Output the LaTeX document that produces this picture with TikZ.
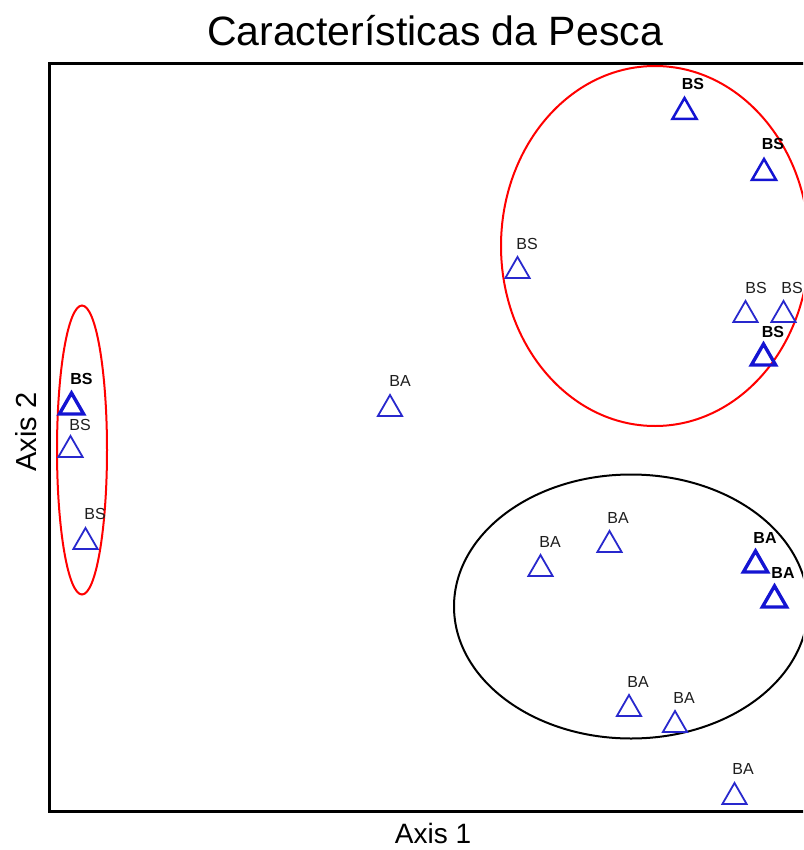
\documentclass[tikz,border=0pt]{standalone}
\usepackage{fontspec}
\setmainfont{Liberation Sans}
\usetikzlibrary{shapes.geometric,calc}
\definecolor{triblue}{RGB}{40,40,205}
\definecolor{tridark}{RGB}{20,20,210}
\definecolor{labgray}{RGB}{30,30,30}
\tikzset{
  tri/.style={regular polygon, regular polygon sides=3, minimum size=28pt, inner sep=0pt, draw=triblue, line width=1.8pt},
  trimid/.style={tri, draw=tridark, line width=2.5pt},
  trithick/.style={tri, draw=tridark, line width=3.4pt},
  lab/.style={inner sep=0pt, text=labgray, font=\fontsize{16}{16}\selectfont},
  labb/.style={inner sep=0pt, text=black, font=\fontsize{16}{16}\selectfont\bfseries},
  frameline/.style={line width=3pt, black},
  grp/.style={line width=2pt},
}
\begin{document}
\begin{tikzpicture}[x=1pt,y=-1pt]
\useasboundingbox (0,0) rectangle (803,850);
\clip (0,0) rectangle (803,850);
\fill[white] (0,0) rectangle (803,850);
% title and axes
\node[anchor=base, inner sep=0pt, font=\fontsize{41}{41}\selectfont] (title) at (435,46) {Características da Pesca};
\node[anchor=base, inner sep=0pt, font=\fontsize{28}{28}\selectfont] (ax1) at (433,843) {Axis 1};
\node[anchor=base, inner sep=0pt, rotate=90, font=\fontsize{29}{29}\selectfont] (ax2) at (36,432) {Axis 2};
% frame
\draw[frameline] (805,64) -| (49,811) -- (805,811);
% group ellipses
\draw[grp, red] (82,450) ellipse [x radius=25, y radius=144.5];
\draw[grp, red] (655,246) ellipse [x radius=154, y radius=180];
\draw[grp, black] (631,606.5) ellipse [x radius=177, y radius=132];
% left group
\node[trithick] (l1) at (71.5,407) {};
\node[labb] at ($(l1)+(10,-28)$) {BS};
\node[tri] (l2) at (70.5,450) {};
\node[lab] at ($(l2)+(9.5,-25)$) {BS};
\node[tri] (l3) at (85.5,542) {};
\node[lab] at ($(l3)+(9.5,-28)$) {BS};
% middle
\node[tri] (m1) at (390,409) {};
\node[lab] at ($(m1)+(10,-28)$) {BA};
% top-right group
\node[tri] (t0) at (517.5,271) {};
\node[lab] at ($(t0)+(9.5,-27)$) {BS};
\node[trimid] (t1) at (684.5,112) {};
\node[labb] at ($(t1)+(8.5,-28)$) {BS};
\node[trimid] (t2) at (764,173) {};
\node[labb] at ($(t2)+(9,-29)$) {BS};
\node[tri] (t3) at (745.5,315) {};
\node[lab] at ($(t3)+(10.5,-27)$) {BS};
\node[tri] (t4) at (783.5,315) {};
\node[lab] at ($(t4)+(8.5,-27)$) {BS};
\node[trithick] (t5) at (763.5,358) {};
\node[labb] at ($(t5)+(9.5,-26)$) {BS};
% bottom group
\node[tri] (b1) at (540.5,569) {};
\node[lab] at ($(b1)+(9.5,-27)$) {BA};
\node[tri] (b2) at (609.5,545) {};
\node[lab] at ($(b2)+(8.5,-27)$) {BA};
\node[trithick] (b3) at (755.5,565) {};
\node[labb] at ($(b3)+(9.5,-27)$) {BA};
\node[trithick] (b4) at (774.5,600) {};
\node[labb] at ($(b4)+(8.5,-27)$) {BA};
\node[tri] (b5) at (629,709) {};
\node[lab] at ($(b5)+(9,-27)$) {BA};
\node[tri] (b6) at (675,725) {};
\node[lab] at ($(b6)+(9,-27)$) {BA};
\node[tri] (b7) at (734.5,797) {};
\node[lab] at ($(b7)+(8.5,-28)$) {BA};
\end{tikzpicture}
\end{document}
